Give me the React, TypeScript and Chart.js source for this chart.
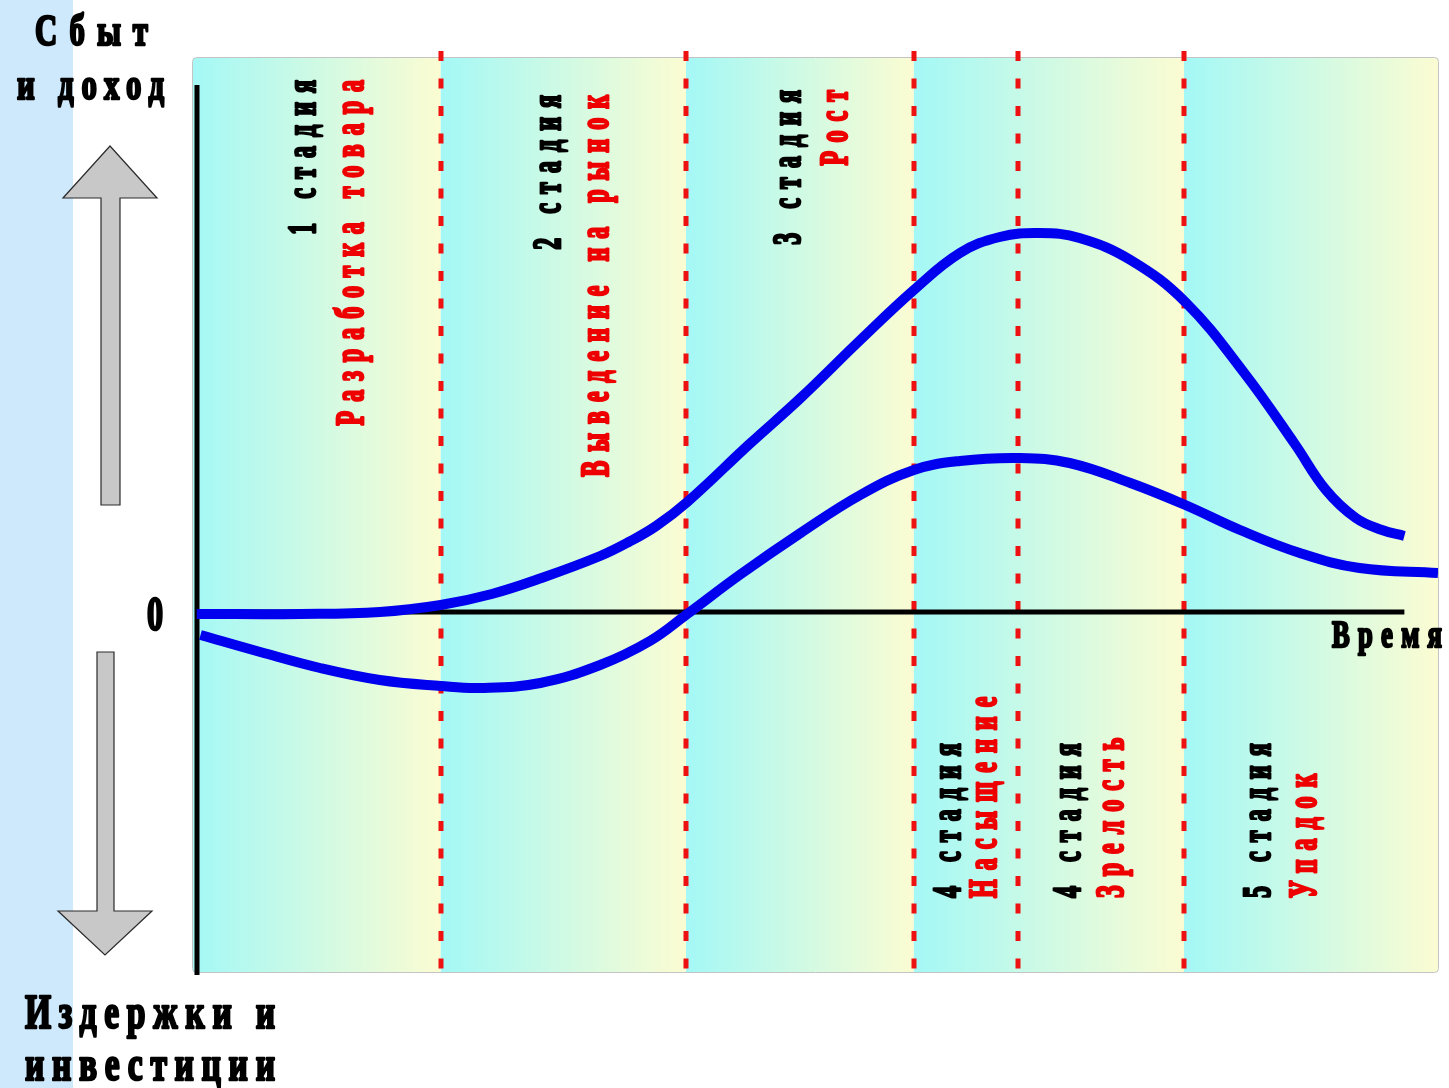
import { useEffect, useRef } from 'react';
import { Chart, registerables } from 'chart.js';

Chart.register(...registerables);

// ---- data (x: time units 0..100, y: value units, 0 = break-even) ----
const salesX = [0.3, 8.6, 15.0, 19.9, 24.0, 28.0, 32.7, 35.0, 37.2, 39.7, 44.7, 48.8, 53.6, 57.9, 61.6, 64.8, 68.0, 71.2, 75.3, 79.7, 84.5, 88.5, 91.0, 93.4, 95.5, 97.3];
const salesY = [-0.5, -0.5, 0, 1.75, 4.5, 8.5, 14, 17.5, 21.5, 27.5, 42, 53.5, 68, 80.5, 89.75, 93.75, 94.75, 93.5, 88, 77.5, 59.5, 42, 30.5, 23.5, 20.5, 19];
const profitX = [0.6, 5.4, 10.2, 15.0, 19.9, 23.1, 27.9, 32.7, 36.7, 39.7, 43.9, 48.8, 53.6, 57.9, 61.6, 66.4, 70.4, 75.3, 79.7, 84.1, 88.9, 93.7, 100];
const profitY = [-5.75, -10, -14, -17, -18.5, -19, -17.75, -13.25, -7.25, -0.5, 9.25, 19.75, 29.25, 35.5, 37.75, 38.5, 37.25, 32.25, 26.75, 20.5, 14.75, 11, 9.75];

const stageStarts = [0, 19.9, 39.6, 57.9, 66.3, 79.6];
const bandEdges = [0, 19.9, 39.6, 57.9, 79.6, 100];
const dashedLinesAt = [19.9, 39.6, 57.9, 66.3, 79.6];
const stageNumbers = ['1 стадия', '2 стадия', '3 стадия', '4 стадия', '4 стадия', '5 стадия'];
const stageNames = ['Разработка товара', 'Выведение на рынок', 'Рост', 'Насыщение', 'Зрелость', 'Упадок'];
const topAxisTitle = ['Сбыт', 'и доход'];
const bottomAxisTitle = ['Издержки и', 'инвестиции'];
const timeTitle = 'Время';
const zeroLabel = '0';

// ---- layout ----
const W = 1449;
const H = 1088;
const SERIF = '"Liberation Serif", "Times New Roman", serif';
const numberOffsets = [122, 119, 114, 46, 62, 86];
const nameOffsets = [170, 167, 161, 82, 105, 132];
const labelAnchors = ['top', 'top', 'top', 'bottom', 'bottom', 'bottom'];
const topAnchorY = [80, 95, 90];
const bottomAnchorY = 898;

function hText(ctx: CanvasRenderingContext2D, text: string, x: number, base: number, size: number, sx: number, width: number, color = '#000') {
  ctx.save();
  ctx.font = `bold ${size}px ${SERIF}`;
  ctx.letterSpacing = '0px';
  const w0 = ctx.measureText(text).width;
  const n = [...text].length;
  const sp = n > 1 ? (width / sx - w0) / (n - 1) : 0;
  ctx.letterSpacing = `${sp}px`;
  ctx.fillStyle = color;
  ctx.strokeStyle = color;
  ctx.lineWidth = 2.6;
  ctx.lineJoin = 'round';
  ctx.textAlign = 'left';
  ctx.textBaseline = 'alphabetic';
  ctx.translate(x, base);
  ctx.scale(sx, 1);
  ctx.fillText(text, 0, 0);
  ctx.strokeText(text, 0, 0);
  ctx.restore();
}

function vText(ctx: CanvasRenderingContext2D, text: string, xBase: number, y: number, anchor: string, color: string) {
  const size = 40;
  const sx = 0.6;
  const sp = 9;
  ctx.save();
  ctx.font = `bold ${size}px ${SERIF}`;
  ctx.letterSpacing = '0px';
  const w0 = ctx.measureText(text).width;
  const n = [...text].length;
  const len = w0 * sx + sp * (n - 1);
  ctx.letterSpacing = `${sp / sx}px`;
  ctx.fillStyle = color;
  ctx.strokeStyle = color;
  ctx.lineWidth = 2.8;
  ctx.lineJoin = 'round';
  ctx.textAlign = 'left';
  ctx.textBaseline = 'alphabetic';
  ctx.translate(xBase, anchor === 'bottom' ? y : y + len);
  ctx.rotate(-Math.PI / 2);
  ctx.scale(sx, 1);
  ctx.fillText(text, 0, 0);
  ctx.strokeText(text, 0, 0);
  ctx.restore();
}

function arrow(ctx: CanvasRenderingContext2D, pts: number[][]) {
  ctx.save();
  ctx.beginPath();
  pts.forEach((p, i) => (i ? ctx.lineTo(p[0], p[1]) : ctx.moveTo(p[0], p[1])));
  ctx.closePath();
  ctx.fillStyle = '#c8c8c8';
  ctx.fill();
  ctx.strokeStyle = '#2a2a2a';
  ctx.lineWidth = 1.2;
  ctx.stroke();
  ctx.restore();
}

const backdrop = {
  id: 'backdrop',
  beforeDatasetsDraw(chart: any) {
    const ctx: CanvasRenderingContext2D = chart.ctx;
    const xs = chart.scales.x;
    const ys = chart.scales.y;
    const area = chart.chartArea;
    ctx.save();
    ctx.fillStyle = '#ffffff';
    ctx.fillRect(0, 0, W, H);
    ctx.fillStyle = '#cde9fb';
    ctx.fillRect(0, 0, 73, H);

    // gradient bands
    for (let i = 0; i < bandEdges.length - 1; i++) {
      const x0 = xs.getPixelForValue(bandEdges[i]);
      const x1 = xs.getPixelForValue(bandEdges[i + 1]);
      const g = ctx.createLinearGradient(x0, 0, x1, 0);
      g.addColorStop(0, '#a4f8f6');
      g.addColorStop(1, '#fbfcd2');
      ctx.fillStyle = g;
      ctx.fillRect(x0, area.top, x1 - x0, area.bottom - area.top);
    }
    ctx.strokeStyle = '#c4c4c4';
    ctx.lineWidth = 1;
    ctx.beginPath();
    ctx.roundRect(area.left - 0.5, area.top - 0.5, area.right - area.left + 1, area.bottom - area.top + 1, 4);
    ctx.stroke();

    // dashed stage separators
    ctx.strokeStyle = '#ee1111';
    ctx.lineWidth = 5;
    ctx.setLineDash([10, 17.5]);
    dashedLinesAt.forEach((v) => {
      const x = Math.round(xs.getPixelForValue(v));
      ctx.beginPath();
      ctx.moveTo(x, area.top - 7);
      ctx.lineTo(x, area.bottom + 4);
      ctx.stroke();
    });
    ctx.setLineDash([]);

    // axes
    const zeroY = ys.getPixelForValue(0);
    const axisX = area.left + 4;
    ctx.strokeStyle = '#000';
    ctx.lineWidth = 5;
    ctx.beginPath();
    ctx.moveTo(axisX, 85);
    ctx.lineTo(axisX, area.bottom + 3);
    ctx.moveTo(axisX, zeroY);
    ctx.lineTo(xs.getPixelForValue(salesX[salesX.length - 1]), zeroY);
    ctx.stroke();

    // stage labels
    stageNumbers.forEach((t, i) => {
      const sx = xs.getPixelForValue(stageStarts[i]);
      const anchor = labelAnchors[i];
      const y = anchor === 'top' ? topAnchorY[i] : bottomAnchorY;
      vText(ctx, t, sx + numberOffsets[i], y, anchor, '#000');
      vText(ctx, stageNames[i], sx + nameOffsets[i], y, anchor, '#ee0000');
    });

    // axis titles
    hText(ctx, topAxisTitle[0], 35, 45, 44, 0.7, 113);
    hText(ctx, topAxisTitle[1], 17, 99, 44, 0.7, 147);
    hText(ctx, bottomAxisTitle[0], 25, 1028, 48, 0.7, 250);
    hText(ctx, bottomAxisTitle[1], 25, 1080, 48, 0.7, 250);
    hText(ctx, zeroLabel, 147, 630, 48, 0.67, 16);
    hText(ctx, timeTitle, 1332, 647, 38, 0.7, 110);

    // arrows
    arrow(ctx, [[110, 146], [157, 198], [120, 198], [120, 505], [101, 505], [101, 198], [63, 198]]);
    arrow(ctx, [[97, 652], [114, 652], [114, 911], [152, 911], [105, 955], [58, 911], [97, 911]]);
    ctx.restore();
  },
};

export default function App() {
  const ref = useRef<HTMLCanvasElement>(null);
  useEffect(() => {
    if (!ref.current) return;
    const toPts = (xs: number[], ys: number[]) => xs.map((x, i) => ({ x, y: ys[i] }));
    const chart = new Chart(ref.current, {
      type: 'line',
      data: {
        datasets: [
          { label: 'Сбыт и доход', data: toPts(salesX, salesY), borderColor: '#0000ee', borderWidth: 10, pointRadius: 0, fill: false, tension: 0.4 },
          { label: 'Прибыль', data: toPts(profitX, profitY), borderColor: '#0000ee', borderWidth: 10, pointRadius: 0, fill: false, tension: 0.4 },
        ],
      },
      options: {
        responsive: false,
        animation: false,
        devicePixelRatio: 1,
        layout: { padding: { left: 193, right: 11, top: 58, bottom: 116 } },
        scales: {
          x: { type: 'linear', min: 0, max: 100, display: false },
          y: { type: 'linear', min: -90, max: 138.5, display: false },
        },
        plugins: { legend: { display: false }, tooltip: { enabled: false } },
      },
      plugins: [backdrop],
    } as any);
    return () => chart.destroy();
  }, []);
  return (
    <div style={{ position: 'absolute', left: 0, top: 0, width: W, height: H, background: '#fff' }}>
      <canvas ref={ref} width={W} height={H} style={{ display: 'block', width: W, height: H }} />
    </div>
  );
}
